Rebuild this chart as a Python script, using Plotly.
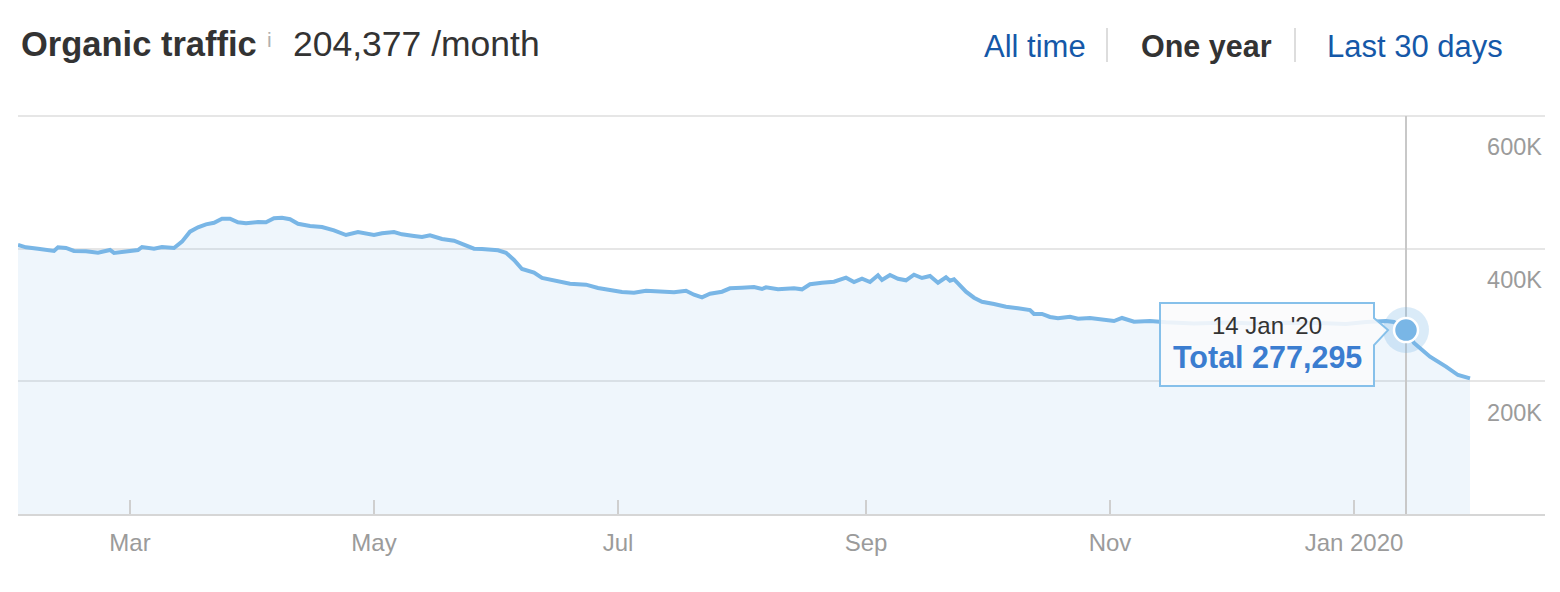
import plotly.graph_objects as go

# daily organic traffic (Feb 2019 - Jan 2020)
DATES = [
    "2019-02-01", "2019-02-03", "2019-02-06", "2019-02-08", "2019-02-10", "2019-02-11", "2019-02-13",
    "2019-02-15", "2019-02-18", "2019-02-21", "2019-02-24", "2019-02-25", "2019-02-27",
    "2019-03-03", "2019-03-04", "2019-03-07", "2019-03-09", "2019-03-12", "2019-03-14", "2019-03-16",
    "2019-03-18", "2019-03-20", "2019-03-22", "2019-03-24", "2019-03-26", "2019-03-28", "2019-03-30",
    "2019-04-02", "2019-04-04", "2019-04-06", "2019-04-08", "2019-04-10", "2019-04-12", "2019-04-15",
    "2019-04-18", "2019-04-21", "2019-04-24", "2019-04-27",
    "2019-05-01", "2019-05-03", "2019-05-06", "2019-05-08", "2019-05-11", "2019-05-13", "2019-05-15",
    "2019-05-18", "2019-05-21", "2019-05-23", "2019-05-26", "2019-05-28",
    "2019-06-01", "2019-06-03", "2019-06-05", "2019-06-07", "2019-06-10", "2019-06-12", "2019-06-16",
    "2019-06-19", "2019-06-23", "2019-06-26",
    "2019-07-02", "2019-07-05", "2019-07-08", "2019-07-12", "2019-07-15", "2019-07-18", "2019-07-20",
    "2019-07-22", "2019-07-24", "2019-07-27", "2019-07-29",
    "2019-08-01", "2019-08-04", "2019-08-06", "2019-08-07", "2019-08-10", "2019-08-14", "2019-08-16",
    "2019-08-18", "2019-08-21", "2019-08-24", "2019-08-27", "2019-08-29", "2019-08-31",
    "2019-09-02", "2019-09-04", "2019-09-05", "2019-09-07", "2019-09-09", "2019-09-11", "2019-09-13",
    "2019-09-15", "2019-09-17", "2019-09-19", "2019-09-21", "2019-09-22", "2019-09-23", "2019-09-24",
    "2019-09-26", "2019-09-28", "2019-09-30",
    "2019-10-03", "2019-10-06", "2019-10-09", "2019-10-12", "2019-10-13", "2019-10-15", "2019-10-17",
    "2019-10-19", "2019-10-22", "2019-10-24", "2019-10-27", "2019-10-30",
    "2019-11-02", "2019-11-04", "2019-11-07", "2019-11-11", "2019-11-15", "2019-11-22",
    "2019-12-01", "2019-12-08", "2019-12-15", "2019-12-23", "2019-12-30",
    "2020-01-04", "2020-01-09", "2020-01-11", "2020-01-14", "2020-01-16", "2020-01-20", "2020-01-24",
    "2020-01-27", "2020-01-30",
]
TRAFFIC = [
    405500, 402000, 399900, 397500, 396500, 402000, 401000,
    396500, 396000, 393900, 398000, 393500, 394500,
    398000, 402500, 399900, 402500, 401000, 410500, 425600,
    432200, 436700, 439100, 445200, 445200, 439700, 438200,
    440200, 439700, 445800, 446700, 444300, 437600, 434200,
    432700, 427700, 420600, 425100,
    420600, 423100, 425100, 421600, 419100, 417600, 420100,
    414600, 412000, 406600, 399900, 399500,
    397500, 393900, 382900, 369300, 363800, 355800, 351200,
    347200, 345700, 340700,
    334700, 333600, 336600, 335100, 334200, 336600, 330600,
    326700, 332100, 335100, 340200,
    341100, 342200, 339200, 341700, 338700, 340200, 338700,
    346300, 348700, 350200, 356200, 349700, 354700,
    349700, 359800, 352800, 360300, 354700, 352300, 360700,
    355800, 358800, 348700, 356800, 351700, 353800, 347800,
    335100, 326100, 320000,
    316600, 312500, 310100, 307500, 301500, 301500, 297000,
    295000, 297400, 294400, 295500, 293500,
    290900, 295500, 289900, 290900, 289000, 287200,
    288700, 286900, 288400, 287900, 286400,
    289400, 290900, 289400, 277295, 257800, 237100, 222100,
    209500, 204377,
]

HOVER_DATE = "2020-01-14"
HOVER_LABEL = "14 Jan '20"
HOVER_VALUE = 277295
MONTHLY_TOTAL = "204,377"

X_RANGE = ["2019-02-01", "2020-02-17 18:00"]
Y_MAX = 600000
Y_TOP = 603000          # a little headroom so the 600K grid line is drawn
Y_TICKS = [200000, 400000, 600000]
Y_TICK_TEXT = ["200K", "400K", "600K"]
X_TICKS = ["2019-03-01", "2019-05-01", "2019-07-01", "2019-09-01", "2019-11-01", "2020-01-01"]
X_TICK_TEXT = ["Mar", "May", "Jul", "Sep", "Nov", "Jan 2020"]

LINE_BLUE = "#79b6e6"
FILL_BLUE = "rgba(121,182,230,0.12)"
GRID = "#e6e6e6"
AXIS_GREY = "#d6d6d6"
LABEL_GREY = "#9b9b9b"
TEXT_DARK = "#333333"
LINK_BLUE = "#1558a8"
TOTAL_BLUE = "#3b7dd0"
FONT = "Liberation Sans, Arial, Helvetica, sans-serif"

W, H = 1560, 592
PL, PR, PT, PB = 18, 1545, 114, 514   # plot area in pixels
HEAD_T = 116                          # pixel row of the 600K line, header is placed from it


def px(x):
    return (x - PL) / (PR - PL)


def py(y):
    return (PB - y) / (PB - PT)


fig = go.Figure()

fig.add_trace(go.Scatter(
    x=DATES, y=TRAFFIC, mode="lines",
    line=dict(color=LINE_BLUE, width=4, shape="linear"),
    fill="tozeroy", fillcolor=FILL_BLUE,
    hoverinfo="skip", showlegend=False,
))

# crosshair at the hovered day
fig.add_trace(go.Scatter(
    x=[HOVER_DATE, HOVER_DATE], y=[0, Y_MAX], mode="lines",
    line=dict(color="#c8c8c8", width=2),
    hoverinfo="skip", showlegend=False,
))
fig.add_trace(go.Scatter(
    x=[HOVER_DATE], y=[HOVER_VALUE], mode="markers",
    marker=dict(size=46, color="rgba(121,182,230,0.28)"),
    hoverinfo="skip", showlegend=False,
))
fig.add_trace(go.Scatter(
    x=[HOVER_DATE], y=[HOVER_VALUE], mode="markers",
    marker=dict(size=24, color=LINE_BLUE, line=dict(color="white", width=2.5)),
    hoverinfo="skip", showlegend=False,
))

# tooltip box with its pointer
fig.add_shape(
    type="path", xref="x", yref="y",
    xsizemode="pixel", ysizemode="pixel",
    xanchor=HOVER_DATE, yanchor=HOVER_VALUE,
    path="M -246,27 L -32,27 L -32,12 L -18,0 L -32,-15 L -32,-56 L -246,-56 Z",
    fillcolor="rgba(250,251,252,0.88)",
    line=dict(color="#86c0ea", width=2),
    layer="above",
)
fig.add_annotation(
    x=HOVER_DATE, y=HOVER_VALUE, xshift=-139, yshift=5,
    text=HOVER_LABEL, showarrow=False,
    font=dict(family=FONT, size=24, color=TEXT_DARK),
)
fig.add_annotation(
    x=HOVER_DATE, y=HOVER_VALUE, xshift=-139, yshift=-27,
    text=f"<b>Total {HOVER_VALUE:,}</b>", showarrow=False,
    font=dict(family=FONT, size=30.5, color=TOTAL_BLUE),
)

# header
fig.add_annotation(
    xref="paper", yref="paper", x=px(19), y=py(44), xanchor="left", yanchor="middle",
    text="<b>Organic traffic</b>", showarrow=False,
    font=dict(family=FONT, size=34.5, color=TEXT_DARK),
)
fig.add_annotation(
    xref="paper", yref="paper", x=px(265), y=py(39), xanchor="left", yanchor="middle",
    text="i", showarrow=False,
    font=dict(family=FONT, size=21, color="#b0b0b0"),
)
fig.add_annotation(
    xref="paper", yref="paper", x=px(291), y=py(44), xanchor="left", yanchor="middle",
    text=f"{MONTHLY_TOTAL} /month", showarrow=False,
    font=dict(family=FONT, size=35.5, color=TEXT_DARK),
)
for label, x0, color, bold, size in [
    ("All time", 982, LINK_BLUE, False, 31),
    ("One year", 1139, TEXT_DARK, True, 30.5),
    ("Last 30 days", 1325, LINK_BLUE, False, 31),
]:
    fig.add_annotation(
        xref="paper", yref="paper", x=px(x0), y=py(46), xanchor="left", yanchor="middle",
        text=f"<b>{label}</b>" if bold else label, showarrow=False,
        font=dict(family=FONT, size=size, color=color),
    )
for sx in [1107, 1295]:
    fig.add_shape(
        type="line", xref="paper", yref="paper",
        x0=px(sx), x1=px(sx), y0=py(28), y1=py(62),
        line=dict(color="#dddddd", width=2),
    )

fig.update_layout(
    width=W, height=H,
    margin=dict(l=PL, r=W - PR, t=PT, b=H - PB),
    paper_bgcolor="white", plot_bgcolor="white",
    font=dict(family=FONT),
    hovermode=False,
    xaxis=dict(
        type="date", range=X_RANGE,
        tickvals=X_TICKS, ticktext=X_TICK_TEXT,
        ticks="inside", ticklen=14, tickwidth=1.5, tickcolor="#cfcfcf",
        tickfont=dict(size=24, color=LABEL_GREY),
        ticklabelstandoff=6,
        showline=True, linecolor=AXIS_GREY, linewidth=2,
        showgrid=False, zeroline=False, fixedrange=True,
    ),
    yaxis=dict(
        range=[0, Y_TOP], tickvals=Y_TICKS, ticktext=Y_TICK_TEXT,
        side="right", ticklabelposition="inside", ticks="",
        ticklabelshift=31,
        tickfont=dict(size=23.5, color=LABEL_GREY),
        showgrid=True, gridcolor=GRID, gridwidth=2,
        showline=False, zeroline=False, fixedrange=True,
    ),
)

fig.write_html("out.html", config={"displayModeBar": False},
               post_script="document.body.style.margin='0';")
